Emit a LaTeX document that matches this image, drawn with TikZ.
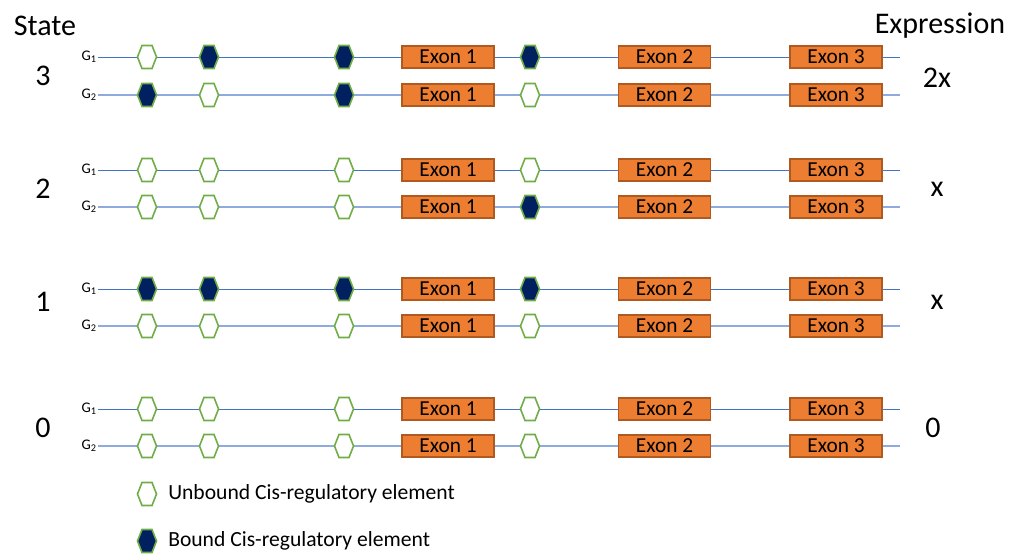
\documentclass[tikz,border=0pt]{standalone}
\usepackage{fontspec}
\setmainfont{Carlito}
\definecolor{hexgreen}{HTML}{70AD47}
\definecolor{navy}{HTML}{002060}
\definecolor{exonfill}{HTML}{ED7D31}
\definecolor{exonedge}{HTML}{AE5A21}
\definecolor{gone}{HTML}{4472C4}
\definecolor{gtwo}{HTML}{8FAADC}
\tikzset{
  hexshape/.style={draw=hexgreen, line width=1.2pt},
  hexU/.pic={\path[hexshape, fill=white] (-9.5,0) -- (-5,-11.5) -- (5,-11.5) -- (9.5,0) -- (5,11.5) -- (-5,11.5) -- cycle;},
  hexB/.pic={\path[hexshape, fill=navy] (-9.5,0) -- (-5,-11.5) -- (5,-11.5) -- (9.5,0) -- (5,11.5) -- (-5,11.5) -- cycle;},
  gline1/.style={draw=gone, line width=0.75pt},
  gline2/.style={draw=gtwo, line width=1pt},
  glabel/.style={anchor=east, inner sep=0pt, font=\fontsize{11}{13}\selectfont},
  exon/.style={draw=exonedge, fill=exonfill, line width=0.8pt, minimum width=69pt, minimum height=16.5pt, inner sep=0pt, font=\fontsize{16}{19}\selectfont},
  big/.style={inner sep=0pt, font=\fontsize{22.5}{26}\selectfont},
  legend/.style={anchor=west, inner sep=0pt, font=\fontsize{16.2}{19}\selectfont},
}
\newcommand\generow[7]{%
  \node[glabel] (#1g) at (97,#2) {G\textsubscript{#3}};
  \coordinate (#1s) at (98,#2);
  \coordinate (#1e) at (900,#2);
  \draw[gline#3] (#1s) -- (#1e);
  \pic (#1h1) at (147,#2) {#4};
  \pic (#1h2) at (209,#2) {#5};
  \pic (#1h3) at (344,#2) {#6};
  \pic (#1h4) at (530,#2) {#7};
  \node[exon] (#1x1) at (448,#2) {Exon 1};
  \node[exon] (#1x2) at (664.5,#2) {Exon 2};
  \node[exon] (#1x3) at (836,#2) {Exon 3};
}
\begin{document}
\begin{tikzpicture}[x=0.75pt, y=-0.75pt]
\useasboundingbox (0,0) rectangle (1020,553);
\node[big] (state) at (45,26) {State};
\node[big] (expr) at (940,26) {Expression};
% state 3
\generow{a}{57}{1}{hexU}{hexB}{hexB}{hexB}
\generow{b}{95}{2}{hexB}{hexU}{hexB}{hexU}
\node[big] (s3) at (43,76) {3};
\node[big] (e3) at (937,78) {2x};
% state 2
\generow{c}{170}{1}{hexU}{hexU}{hexU}{hexU}
\generow{d}{207}{2}{hexU}{hexU}{hexU}{hexB}
\node[big] (s2) at (43,189) {2};
\node[big] (e2) at (937,189) {x};
% state 1
\generow{e}{289}{1}{hexB}{hexB}{hexB}{hexB}
\generow{f}{326}{2}{hexU}{hexU}{hexU}{hexU}
\node[big] (s1) at (43,302) {1};
\node[big] (e1) at (937,302) {x};
% state 0
\generow{g}{409}{1}{hexU}{hexU}{hexU}{hexU}
\generow{h}{446}{2}{hexU}{hexU}{hexU}{hexU}
\node[big] (s0) at (43,428) {0};
\node[big] (e0) at (933,428) {0};
% legend
\pic (lu) at (147,494) {hexU};
\node[legend] (lut) at (168,494) {Unbound Cis-regulatory element};
\pic (lb) at (147,541) {hexB};
\node[legend] (lbt) at (168,541) {Bound Cis-regulatory element};
\end{tikzpicture}
\end{document}
